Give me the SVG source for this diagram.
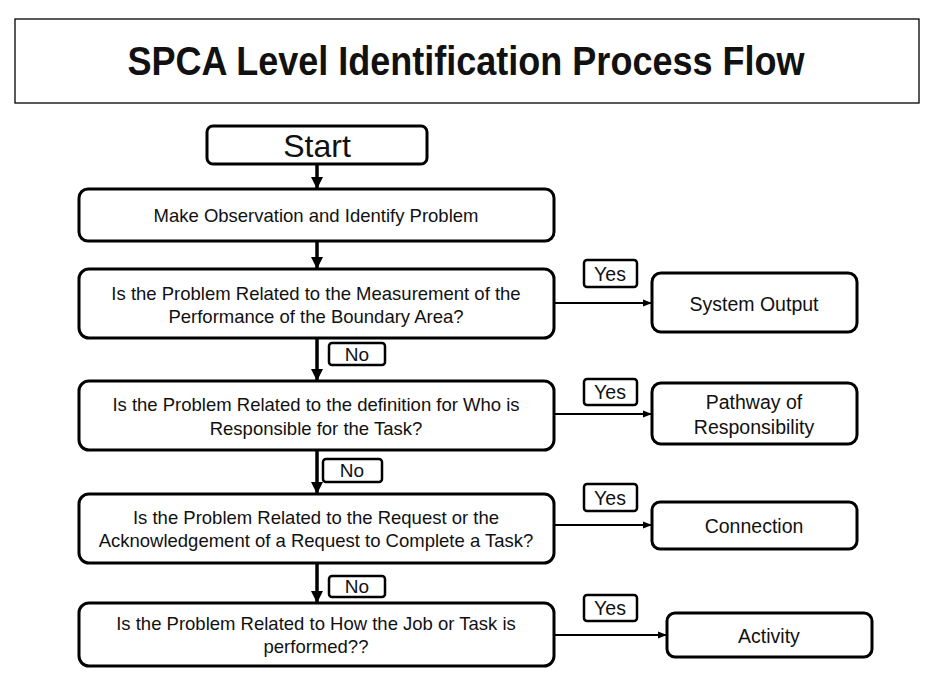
<svg xmlns="http://www.w3.org/2000/svg" width="938" height="681" viewBox="0 0 938 681">
<defs>
<style>
.box{fill:#fff;stroke:#000;stroke-width:3}
.tag{fill:#fff;stroke:#000;stroke-width:2.5}
.t{font-family:"Liberation Sans",Arial,sans-serif;fill:#111;text-anchor:middle}
.q{font-size:18.5px}
.s{font-size:19.5px}
.n{font-size:19px}
.v{stroke:#000;stroke-width:3.5;fill:none}
.h{stroke:#000;stroke-width:2;fill:none}
</style>
<marker id="big" markerUnits="userSpaceOnUse" markerWidth="14" markerHeight="14" viewBox="0 0 14 14" refX="12" refY="7" orient="auto">
<path d="M0,1 L12,7 L0,13 Z" fill="#000"/>
</marker>
<marker id="small" markerUnits="userSpaceOnUse" markerWidth="10" markerHeight="10" viewBox="0 0 10 10" refX="9" refY="5" orient="auto">
<path d="M0,1.5 L9,5 L0,8.5 Z" fill="#000"/>
</marker>
</defs>
<rect width="938" height="681" fill="#fff"/>
<g id="title">
<rect x="15" y="19" width="904" height="84" fill="#fff" stroke="#000" stroke-width="1.3"/>
<text x="466" y="75" class="t" style="font-size:40px;font-weight:bold" textLength="677" lengthAdjust="spacingAndGlyphs">SPCA Level Identification Process Flow</text>
</g>
<g id="connectors">
<line class="v" x1="317" y1="164" x2="317" y2="189" marker-end="url(#big)"/>
<line class="v" x1="317" y1="241" x2="317" y2="269" marker-end="url(#big)"/>
<line class="v" x1="317" y1="338" x2="317" y2="381" marker-end="url(#big)"/>
<line class="v" x1="317" y1="450" x2="317" y2="494" marker-end="url(#big)"/>
<line class="v" x1="317" y1="563" x2="317" y2="603" marker-end="url(#big)"/>
<line class="h" x1="554" y1="303" x2="652" y2="303" marker-end="url(#small)"/>
<line class="h" x1="554" y1="414" x2="652" y2="414" marker-end="url(#small)"/>
<line class="h" x1="554" y1="525" x2="652" y2="525" marker-end="url(#small)"/>
<line class="h" x1="554" y1="635" x2="667" y2="635" marker-end="url(#small)"/>
<g id="no1"><rect class="tag" x="329" y="343" width="56" height="22" rx="3"/><text class="t n" x="357" y="361">No</text></g>
<g id="no2"><rect class="tag" x="323" y="459" width="59" height="23" rx="3"/><text class="t n" x="352" y="477">No</text></g>
<g id="no3"><rect class="tag" x="329" y="576" width="56" height="21" rx="3"/><text class="t n" x="357" y="593">No</text></g>
<g id="yes1"><rect class="tag" x="584" y="260" width="53" height="27" rx="3"/><text class="t s" x="610" y="281">Yes</text></g>
<g id="yes2"><rect class="tag" x="584" y="379" width="53" height="26" rx="3"/><text class="t s" x="610" y="399">Yes</text></g>
<g id="yes3"><rect class="tag" x="584" y="484" width="53" height="27" rx="3"/><text class="t s" x="610" y="505">Yes</text></g>
<g id="yes4"><rect class="tag" x="584" y="595" width="53" height="26" rx="3"/><text class="t s" x="610" y="615">Yes</text></g>
</g>
<g id="start">
<rect class="box" x="207" y="126" width="220" height="38" rx="6"/>
<text class="t" style="font-size:32px" x="317" y="157">Start</text>
</g>
<g id="observe">
<rect class="box" x="79" y="189" width="475" height="52" rx="9"/>
<text class="t q" x="316" y="222">Make Observation and Identify Problem</text>
</g>
<g id="q1">
<rect class="box" x="79" y="269" width="475" height="69" rx="10"/>
<text class="t q" x="316" y="300">Is the Problem Related to the Measurement of the</text>
<text class="t q" x="316" y="323">Performance of the Boundary Area?</text>
</g>
<g id="q2">
<rect class="box" x="79" y="381" width="475" height="69" rx="10"/>
<text class="t q" x="316" y="411">Is the Problem Related to the definition for Who is</text>
<text class="t q" x="316" y="435">Responsible for the Task?</text>
</g>
<g id="q3">
<rect class="box" x="79" y="494" width="475" height="69" rx="10"/>
<text class="t q" x="316" y="524">Is the Problem Related to the Request or the</text>
<text class="t q" x="316" y="547">Acknowledgement of a Request to Complete a Task?</text>
</g>
<g id="q4">
<rect class="box" x="79" y="603" width="475" height="63" rx="10"/>
<text class="t q" x="316" y="630">Is the Problem Related to How the Job or Task is</text>
<text class="t q" x="316" y="653">performed??</text>
</g>
<g id="systemOutput">
<rect class="box" x="652" y="273" width="205" height="59" rx="9"/>
<text class="t s" x="754" y="311">System Output</text>
</g>
<g id="pathway">
<rect class="box" x="652" y="383" width="205" height="61" rx="9"/>
<text class="t s" x="754" y="409">Pathway of</text>
<text class="t s" x="754" y="434">Responsibility</text>
</g>
<g id="connection">
<rect class="box" x="652" y="502" width="205" height="47" rx="8"/>
<text class="t s" x="754" y="533">Connection</text>
</g>
<g id="activity">
<rect class="box" x="667" y="613" width="205" height="44" rx="8"/>
<text class="t s" x="769" y="643">Activity</text>
</g>
</svg>
